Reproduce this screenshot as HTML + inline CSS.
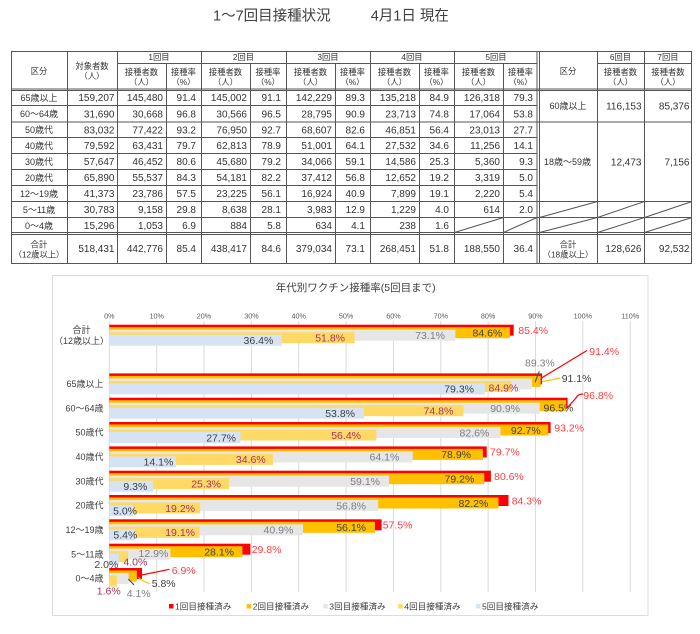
<!DOCTYPE html>
<html><head><meta charset="utf-8"><style>
html,body{margin:0;padding:0;background:#fff;}
svg{display:block;}
text{font-family:"Liberation Sans","Noto Sans CJK JP",sans-serif;}
.n{font-size:10px;fill:#333;text-anchor:end;}
.h{font-size:8.3px;fill:#333;text-anchor:middle;}
.r{font-size:9px;fill:#333;text-anchor:middle;}
.ln{stroke:#555;stroke-width:1;fill:none;}
.cl{font-size:9px;fill:#404040;text-anchor:end;}
.tk{font-size:7.2px;fill:#595959;text-anchor:middle;}
.lb{font-size:10.5px;}
.red{fill:#ff4040;}
.dk{fill:#404040;}
.gy{fill:#7b7f86;}
.mg{fill:#a83262;}
.e{text-anchor:end;}
.lg{font-size:8.6px;fill:#404040;}
</style></head><body>
<svg width="700" height="634" viewBox="0 0 700 634" xmlns="http://www.w3.org/2000/svg">
<!-- Title -->
<text x="213" y="20.5" style="font-size:14.5px;fill:#404040">1～7回目接種状況</text>
<text x="370.7" y="20.5" style="font-size:14.5px;fill:#404040">4月1日 現在</text>

<!-- Table lines -->
<g class="ln">
<rect x="11.5" y="51.5" width="680" height="212"/>
<line x1="117" y1="63.5" x2="537" y2="63.5"/>
<line x1="597" y1="63.5" x2="692" y2="63.5"/>
<line x1="11" y1="89" x2="692" y2="89"/>
<line x1="11" y1="90.5" x2="692" y2="90.5"/>
<line x1="11" y1="105.5" x2="537" y2="105.5"/>
<line x1="11" y1="122" x2="692" y2="122"/>
<line x1="11" y1="137.5" x2="537" y2="137.5"/>
<line x1="11" y1="153.5" x2="537" y2="153.5"/>
<line x1="11" y1="169.5" x2="537" y2="169.5"/>
<line x1="11" y1="185.5" x2="537" y2="185.5"/>
<line x1="11" y1="201.5" x2="692" y2="201.5"/>
<line x1="11" y1="217.5" x2="692" y2="217.5"/>
<line x1="11" y1="232.5" x2="692" y2="232.5"/>
<line x1="11" y1="234.5" x2="692" y2="234.5"/>
<line x1="67.5" y1="51" x2="67.5" y2="264"/>
<line x1="117.5" y1="51" x2="117.5" y2="264"/>
<line x1="201.5" y1="51" x2="201.5" y2="264"/>
<line x1="286.5" y1="51" x2="286.5" y2="264"/>
<line x1="370.5" y1="51" x2="370.5" y2="264"/>
<line x1="454.5" y1="51" x2="454.5" y2="264"/>
<line x1="537" y1="51" x2="537" y2="264"/>
<line x1="539.5" y1="51" x2="539.5" y2="264"/>
<line x1="597.5" y1="51" x2="597.5" y2="264"/>
<line x1="644.5" y1="51" x2="644.5" y2="264"/>
<line x1="166.5" y1="63.5" x2="166.5" y2="264"/>
<line x1="250.5" y1="63.5" x2="250.5" y2="264"/>
<line x1="335.5" y1="63.5" x2="335.5" y2="264"/>
<line x1="419.5" y1="63.5" x2="419.5" y2="264"/>
<line x1="503.5" y1="63.5" x2="503.5" y2="264"/>
<!-- slashes -->
<line x1="539.5" y1="217.5" x2="597.5" y2="201.5"/>
<line x1="597.5" y1="217.5" x2="644.5" y2="201.5"/>
<line x1="644.5" y1="217.5" x2="692" y2="201.5"/>
<line x1="454.5" y1="232.5" x2="503.5" y2="217.5"/>
<line x1="503.5" y1="232.5" x2="537" y2="217.5"/>
<line x1="539.5" y1="232.5" x2="597.5" y2="217.5"/>
<line x1="597.5" y1="232.5" x2="644.5" y2="217.5"/>
<line x1="644.5" y1="232.5" x2="692" y2="217.5"/>
</g>

<!-- Table headers -->
<text class="h" x="39" y="74">区分</text>
<text class="h" x="92" y="69">対象者数</text>
<text class="h" x="92" y="79">（人）</text>
<text class="h" x="159" y="60">1回目</text>
<text class="h" x="243.5" y="60">2回目</text>
<text class="h" x="328" y="60">3回目</text>
<text class="h" x="412" y="60">4回目</text>
<text class="h" x="496" y="60">5回目</text>
<g>
<text class="h" x="141.5" y="75">接種者数</text><text class="h" x="141.5" y="85">（人）</text>
<text class="h" x="183.5" y="75">接種率</text><text class="h" x="183.5" y="85">（%）</text>
<text class="h" x="225.5" y="75">接種者数</text><text class="h" x="225.5" y="85">（人）</text>
<text class="h" x="268" y="75">接種率</text><text class="h" x="268" y="85">（%）</text>
<text class="h" x="310.5" y="75">接種者数</text><text class="h" x="310.5" y="85">（人）</text>
<text class="h" x="352.5" y="75">接種率</text><text class="h" x="352.5" y="85">（%）</text>
<text class="h" x="394.5" y="75">接種者数</text><text class="h" x="394.5" y="85">（人）</text>
<text class="h" x="436.5" y="75">接種率</text><text class="h" x="436.5" y="85">（%）</text>
<text class="h" x="478.5" y="75">接種者数</text><text class="h" x="478.5" y="85">（人）</text>
<text class="h" x="520.5" y="75">接種率</text><text class="h" x="520.5" y="85">（%）</text>
</g>
<text class="h" x="568" y="74">区分</text>
<text class="h" x="620.5" y="60">6回目</text>
<text class="h" x="668" y="60">7回目</text>
<text class="h" x="620.5" y="75">接種者数</text><text class="h" x="620.5" y="85">（人）</text>
<text class="h" x="668" y="75">接種者数</text><text class="h" x="668" y="85">（人）</text>

<!-- Row labels -->
<text class="r" x="39" y="101">65歳以上</text>
<text class="r" x="39" y="117.2">60～64歳</text>
<text class="r" x="39" y="133">50歳代</text>
<text class="r" x="39" y="148.8">40歳代</text>
<text class="r" x="39" y="164.8">30歳代</text>
<text class="r" x="39" y="180.8">20歳代</text>
<text class="r" x="39" y="196.8">12～19歳</text>
<text class="r" x="39" y="212.8">5～11歳</text>
<text class="r" x="39" y="228.8">0～4歳</text>
<text class="r" x="39" y="247.5" style="font-size:8.3px">合計</text>
<text class="r" x="39" y="257.5" style="font-size:8.3px">（12歳以上）</text>

<!-- Row numbers -->
<g class="n">
<text y="101.2"><tspan x="114.5">159,207</tspan><tspan x="163">145,480</tspan><tspan x="196">91.4</tspan><tspan x="247">145,002</tspan><tspan x="281">91.1</tspan><tspan x="332">142,229</tspan><tspan x="365">89.3</tspan><tspan x="416">135,218</tspan><tspan x="449">84.9</tspan><tspan x="500">126,318</tspan><tspan x="533">79.3</tspan></text>
<text y="117.5"><tspan x="114.5">31,690</tspan><tspan x="163">30,668</tspan><tspan x="196">96.8</tspan><tspan x="247">30,566</tspan><tspan x="281">96.5</tspan><tspan x="332">28,795</tspan><tspan x="365">90.9</tspan><tspan x="416">23,713</tspan><tspan x="449">74.8</tspan><tspan x="500">17,064</tspan><tspan x="533">53.8</tspan></text>
<text y="133.4"><tspan x="114.5">83,032</tspan><tspan x="163">77,422</tspan><tspan x="196">93.2</tspan><tspan x="247">76,950</tspan><tspan x="281">92.7</tspan><tspan x="332">68,607</tspan><tspan x="365">82.6</tspan><tspan x="416">46,851</tspan><tspan x="449">56.4</tspan><tspan x="500">23,013</tspan><tspan x="533">27.7</tspan></text>
<text y="149.1"><tspan x="114.5">79,592</tspan><tspan x="163">63,431</tspan><tspan x="196">79.7</tspan><tspan x="247">62,813</tspan><tspan x="281">78.9</tspan><tspan x="332">51,001</tspan><tspan x="365">64.1</tspan><tspan x="416">27,532</tspan><tspan x="449">34.6</tspan><tspan x="500">11,256</tspan><tspan x="533">14.1</tspan></text>
<text y="165.1"><tspan x="114.5">57,647</tspan><tspan x="163">46,452</tspan><tspan x="196">80.6</tspan><tspan x="247">45,680</tspan><tspan x="281">79.2</tspan><tspan x="332">34,066</tspan><tspan x="365">59.1</tspan><tspan x="416">14,586</tspan><tspan x="449">25.3</tspan><tspan x="500">5,360</tspan><tspan x="533">9.3</tspan></text>
<text y="181.1"><tspan x="114.5">65,890</tspan><tspan x="163">55,537</tspan><tspan x="196">84.3</tspan><tspan x="247">54,181</tspan><tspan x="281">82.2</tspan><tspan x="332">37,412</tspan><tspan x="365">56.8</tspan><tspan x="416">12,652</tspan><tspan x="449">19.2</tspan><tspan x="500">3,319</tspan><tspan x="533">5.0</tspan></text>
<text y="197.1"><tspan x="114.5">41,373</tspan><tspan x="163">23,786</tspan><tspan x="196">57.5</tspan><tspan x="247">23,225</tspan><tspan x="281">56.1</tspan><tspan x="332">16,924</tspan><tspan x="365">40.9</tspan><tspan x="416">7,899</tspan><tspan x="449">19.1</tspan><tspan x="500">2,220</tspan><tspan x="533">5.4</tspan></text>
<text y="213.1"><tspan x="114.5">30,783</tspan><tspan x="163">9,158</tspan><tspan x="196">29.8</tspan><tspan x="247">8,638</tspan><tspan x="281">28.1</tspan><tspan x="332">3,983</tspan><tspan x="365">12.9</tspan><tspan x="416">1,229</tspan><tspan x="449">4.0</tspan><tspan x="500">614</tspan><tspan x="533">2.0</tspan></text>
<text y="229.1"><tspan x="114.5">15,296</tspan><tspan x="163">1,053</tspan><tspan x="196">6.9</tspan><tspan x="247">884</tspan><tspan x="281">5.8</tspan><tspan x="332">634</tspan><tspan x="365">4.1</tspan><tspan x="416">238</tspan><tspan x="449">1.6</tspan></text>
<text y="252.1"><tspan x="114.5">518,431</tspan><tspan x="163">442,776</tspan><tspan x="196">85.4</tspan><tspan x="247">438,417</tspan><tspan x="281">84.6</tspan><tspan x="332">379,034</tspan><tspan x="365">73.1</tspan><tspan x="416">268,451</tspan><tspan x="449">51.8</tspan><tspan x="500">188,550</tspan><tspan x="533">36.4</tspan></text>
<text x="641.5" y="109.4">116,153</text><text x="689.5" y="109.4">85,376</text>
<text x="641.5" y="165.4">12,473</text><text x="689.5" y="165.4">7,156</text>
<text x="641.5" y="252.1">128,626</text><text x="689.5" y="252.1">92,532</text>
</g>
<text class="r" x="568" y="109">60歳以上</text>
<text class="r" x="567.5" y="165">18歳～59歳</text>
<text class="r" x="568" y="247.5" style="font-size:8.3px">合計</text>
<text class="r" x="568" y="257.5" style="font-size:8.3px">（18歳以上）</text>

<!-- Chart frame -->
<rect x="52.5" y="275.5" width="595.5" height="340" fill="#fff" stroke="#dcdcdc" stroke-width="1"/>
<text x="355.7" y="291" style="font-size:10.5px;fill:#404040;text-anchor:middle">年代別ワクチン接種率(5回目まで)</text>

<!-- gridlines -->
<g stroke="#dadada" stroke-width="1">
<line x1="109.3" y1="321" x2="109.3" y2="592"/>
<line x1="156.7" y1="321" x2="156.7" y2="592"/>
<line x1="204" y1="321" x2="204" y2="592"/>
<line x1="251.4" y1="321" x2="251.4" y2="592"/>
<line x1="298.7" y1="321" x2="298.7" y2="592"/>
<line x1="346.1" y1="321" x2="346.1" y2="592"/>
<line x1="393.4" y1="321" x2="393.4" y2="592"/>
<line x1="440.8" y1="321" x2="440.8" y2="592"/>
<line x1="488.1" y1="321" x2="488.1" y2="592"/>
<line x1="535.5" y1="321" x2="535.5" y2="592"/>
<line x1="582.8" y1="321" x2="582.8" y2="592"/>
<line x1="630.2" y1="321" x2="630.2" y2="592"/>
</g>
<g class="tk">
<text x="109.3" y="318.5">0%</text><text x="156.7" y="318.5">10%</text><text x="204" y="318.5">20%</text><text x="251.4" y="318.5">30%</text><text x="298.7" y="318.5">40%</text><text x="346.1" y="318.5">50%</text><text x="393.4" y="318.5">60%</text><text x="440.8" y="318.5">70%</text><text x="488.1" y="318.5">80%</text><text x="535.5" y="318.5">90%</text><text x="582.8" y="318.5">100%</text><text x="630.2" y="318.5">110%</text>
</g>

<!-- Bars -->
<g>
<!-- 合計 -->
<rect x="109.3" y="324.7" width="404.4" height="11" fill="#ff0000"/>
<rect x="109.3" y="327.2" width="400.6" height="11" fill="#ffc000"/>
<rect x="109.3" y="329.7" width="346.1" height="11" fill="#e7e6e6"/>
<rect x="109.3" y="332.2" width="245.3" height="11" fill="#ffd966"/>
<rect x="109.3" y="334.7" width="172.4" height="11" fill="#d6e3f4"/>
<!-- 65+ -->
<rect x="109.3" y="373.4" width="432.8" height="11" fill="#ff0000"/>
<rect x="109.3" y="375.9" width="431.4" height="11" fill="#ffc000"/>
<rect x="109.3" y="378.4" width="422.8" height="11" fill="#e7e6e6"/>
<rect x="109.3" y="380.9" width="402.0" height="11" fill="#ffd966"/>
<rect x="109.3" y="383.4" width="375.5" height="11" fill="#d6e3f4"/>
<!-- 60-64 -->
<rect x="109.3" y="397.7" width="458.3" height="11" fill="#ff0000"/>
<rect x="109.3" y="400.2" width="456.9" height="11" fill="#ffc000"/>
<rect x="109.3" y="402.7" width="430.4" height="11" fill="#e7e6e6"/>
<rect x="109.3" y="405.2" width="354.2" height="11" fill="#ffd966"/>
<rect x="109.3" y="407.7" width="254.7" height="11" fill="#d6e3f4"/>
<!-- 50s -->
<rect x="109.3" y="422.0" width="441.3" height="11" fill="#ff0000"/>
<rect x="109.3" y="424.5" width="438.9" height="11" fill="#ffc000"/>
<rect x="109.3" y="427.0" width="391.1" height="11" fill="#e7e6e6"/>
<rect x="109.3" y="429.5" width="267.1" height="11" fill="#ffd966"/>
<rect x="109.3" y="432.0" width="131.2" height="11" fill="#d6e3f4"/>
<!-- 40s -->
<rect x="109.3" y="446.4" width="377.4" height="11" fill="#ff0000"/>
<rect x="109.3" y="448.9" width="373.6" height="11" fill="#ffc000"/>
<rect x="109.3" y="451.4" width="303.5" height="11" fill="#e7e6e6"/>
<rect x="109.3" y="453.9" width="163.8" height="11" fill="#ffd966"/>
<rect x="109.3" y="456.4" width="66.8" height="11" fill="#d6e3f4"/>
<!-- 30s -->
<rect x="109.3" y="470.7" width="381.6" height="11" fill="#ff0000"/>
<rect x="109.3" y="473.2" width="375.0" height="11" fill="#ffc000"/>
<rect x="109.3" y="475.7" width="279.8" height="11" fill="#e7e6e6"/>
<rect x="109.3" y="478.2" width="119.8" height="11" fill="#ffd966"/>
<rect x="109.3" y="480.7" width="44.0" height="11" fill="#d6e3f4"/>
<!-- 20s -->
<rect x="109.3" y="495.0" width="399.2" height="11" fill="#ff0000"/>
<rect x="109.3" y="497.5" width="389.2" height="11" fill="#ffc000"/>
<rect x="109.3" y="500.0" width="268.9" height="11" fill="#e7e6e6"/>
<rect x="109.3" y="502.5" width="90.9" height="11" fill="#ffd966"/>
<rect x="109.3" y="505.0" width="23.7" height="11" fill="#d6e3f4"/>
<!-- 12-19 -->
<rect x="109.3" y="519.3" width="272.3" height="11" fill="#ff0000"/>
<rect x="109.3" y="521.8" width="265.6" height="11" fill="#ffc000"/>
<rect x="109.3" y="524.3" width="193.7" height="11" fill="#e7e6e6"/>
<rect x="109.3" y="526.8" width="90.4" height="11" fill="#ffd966"/>
<rect x="109.3" y="529.3" width="25.6" height="11" fill="#d6e3f4"/>
<!-- 5-11 -->
<rect x="109.3" y="543.7" width="141.1" height="11" fill="#ff0000"/>
<rect x="109.3" y="546.2" width="133.1" height="11" fill="#ffc000"/>
<rect x="109.3" y="548.7" width="61.1" height="11" fill="#e7e6e6"/>
<rect x="109.3" y="551.2" width="18.9" height="11" fill="#ffd966"/>
<rect x="109.3" y="553.7" width="9.5" height="11" fill="#d6e3f4"/>
<!-- 0-4 -->
<rect x="109.3" y="568.0" width="32.7" height="11" fill="#ff0000"/>
<rect x="109.3" y="570.5" width="27.5" height="11" fill="#ffc000"/>
<rect x="109.3" y="573.0" width="19.4" height="11" fill="#e7e6e6"/>
<rect x="109.3" y="575.5" width="7.6" height="11" fill="#ffd966"/>
</g>

<!-- Category labels -->
<text class="cl" x="81.5" y="333.2" style="text-anchor:middle">合計</text>
<text class="cl" x="81.5" y="344.2" style="text-anchor:middle">（12歳以上）</text>
<text class="cl" x="103.5" y="387.1">65歳以上</text>
<text class="cl" x="103.5" y="411.4">60～64歳</text>
<text class="cl" x="103.5" y="435.7">50歳代</text>
<text class="cl" x="103.5" y="460.1">40歳代</text>
<text class="cl" x="103.5" y="484.4">30歳代</text>
<text class="cl" x="103.5" y="508.7">20歳代</text>
<text class="cl" x="103.5" y="533">12～19歳</text>
<text class="cl" x="103.5" y="557.4">5～11歳</text>
<text class="cl" x="103.5" y="581.7">0～4歳</text>

<!-- Leader lines -->
<g fill="none" stroke-width="1.2">
<path d="M587,350.5 L541.5,378" stroke="#ff0000"/>
<path d="M560,378 L542,381.7" stroke="#ffc000"/>
<path d="M539.3,371.3 L535,382.3" stroke="#44546a"/>
<path d="M583,394 Q578,394 576,398 L567,408" stroke="#ff0000"/>
<path d="M169.5,569.3 L141.7,575" stroke="#ff0000"/>
<path d="M150,583.3 Q145,583 138.3,577.3" stroke="#ffc000"/>
<path d="M128.3,579 L134,585" stroke="#44546a"/>
</g>

<!-- Data labels -->
<g class="lb">
<!-- 合計 -->
<text class="red" x="518.3" y="334">85.4%</text>
<text class="dk e" x="502.3" y="336.5">84.6%</text>
<text class="gy e" x="445" y="339">73.1%</text>
<text class="mg e" x="345" y="341.5">51.8%</text>
<text class="dk e" x="273.3" y="344">36.4%</text>
<!-- 65+ -->
<text class="red" x="589.3" y="354.8">91.4%</text>
<text class="dk" x="561.7" y="382.1">91.1%</text>
<text class="gy" x="525" y="366.5">89.3%</text>
<text class="mg e" x="518.3" y="391.5">84.9%</text>
<text class="dk e" x="474" y="392.6">79.3%</text>
<!-- 60-64 -->
<text class="red" x="583.3" y="398.8">96.8%</text>
<text class="dk e" x="573.3" y="411.3">96.5%</text>
<text class="gy e" x="520" y="412">90.9%</text>
<text class="mg e" x="453.3" y="414.5">74.8%</text>
<text class="dk e" x="355" y="417">53.8%</text>
<!-- 50s -->
<text class="red" x="554.3" y="431.3">93.2%</text>
<text class="dk e" x="540.7" y="433.8">92.7%</text>
<text class="gy e" x="489.3" y="436.3">82.6%</text>
<text class="mg e" x="361" y="438.8">56.4%</text>
<text class="dk e" x="236" y="441.3">27.7%</text>
<!-- 40s -->
<text class="red" x="490" y="455.7">79.7%</text>
<text class="dk e" x="471" y="458.2">78.9%</text>
<text class="gy e" x="399.3" y="460.7">64.1%</text>
<text class="mg e" x="265.7" y="463.2">34.6%</text>
<text class="dk e" x="173.3" y="465.7">14.1%</text>
<!-- 30s -->
<text class="red" x="494" y="480">80.6%</text>
<text class="dk e" x="474.3" y="482.5">79.2%</text>
<text class="gy e" x="380" y="485">59.1%</text>
<text class="mg e" x="221" y="487.5">25.3%</text>
<text class="dk e" x="147.3" y="490">9.3%</text>
<!-- 20s -->
<text class="red" x="511.7" y="504.3">84.3%</text>
<text class="dk e" x="488.3" y="506.8">82.2%</text>
<text class="gy e" x="366" y="509.3">56.8%</text>
<text class="mg e" x="195" y="511.8">19.2%</text>
<text class="dk e" x="137" y="514.3">5.0%</text>
<!-- 12-19 -->
<text class="red" x="382.7" y="528.6">57.5%</text>
<text class="dk e" x="366" y="531.1">56.1%</text>
<text class="gy e" x="293.3" y="533.6">40.9%</text>
<text class="mg e" x="195" y="536.1">19.1%</text>
<text class="dk e" x="137.3" y="538.6">5.4%</text>
<!-- 5-11 -->
<text class="red" x="251.7" y="553">29.8%</text>
<text class="dk e" x="234" y="555.5">28.1%</text>
<text class="gy e" x="168.3" y="557.1">12.9%</text>
<text class="mg e" x="147.3" y="565.5">4.0%</text>
<text class="dk e" x="118.3" y="568.1">2.0%</text>
<!-- 0-4 -->
<text class="red" x="171.7" y="573.8">6.9%</text>
<text class="dk" x="151.7" y="587.1">5.8%</text>
<text class="gy" x="126.7" y="597.1">4.1%</text>
<text class="mg e" x="120.7" y="594.5">1.6%</text>
</g>

<!-- Legend -->
<rect x="169" y="604" width="4.5" height="4.5" fill="#ff0000"/>
<text class="lg" x="175" y="609.5">1回目接種済み</text>
<rect x="246.7" y="604" width="4.5" height="4.5" fill="#ffc000"/>
<text class="lg" x="252.7" y="609.5">2回目接種済み</text>
<rect x="323.3" y="604" width="4.5" height="4.5" fill="#e7e6e6"/>
<text class="lg" x="329.3" y="609.5">3回目接種済み</text>
<rect x="398.3" y="604" width="4.5" height="4.5" fill="#ffd966"/>
<text class="lg" x="404.3" y="609.5">4回目接種済み</text>
<rect x="476" y="604" width="4.5" height="4.5" fill="#d6e3f4"/>
<text class="lg" x="482" y="609.5">5回目接種済み</text>
</svg>
</body></html>
